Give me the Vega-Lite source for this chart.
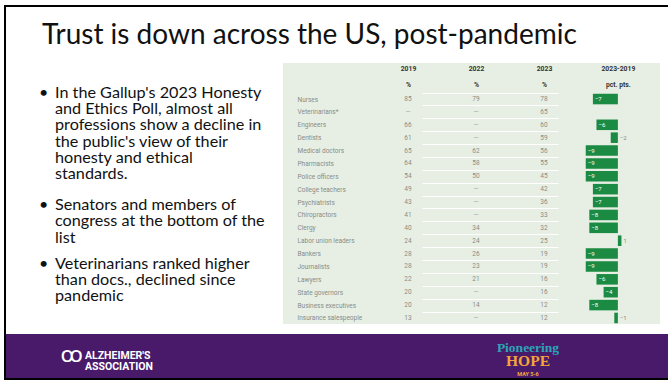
{
  "$schema": "https://vega.github.io/schema/vega-lite/v6.json",
  "background": "white",
  "padding": {"left": 4, "top": 5, "right": 2, "bottom": 0},
  "config": {
    "view": {"stroke": null},
    "axisY": {
      "orient": "left",
      "offset": -14,
      "labelAlign": "left",
      "labelPadding": 0,
      "tickSize": 0,
      "ticks": false,
      "domain": false,
      "grid": true,
      "gridColor": "white",
      "gridWidth": 1,
      "gridOpacity": 1,
      "tickBand": "extent",
      "labelFont": "Roboto",
      "labelFontSize": 6.5,
      "labelColor": "#878c87",
      "title": null
    },
    "axisTop": {
      "offset": -10,
      "labelPadding": 2,
      "tickSize": 0,
      "ticks": false,
      "domain": false,
      "grid": false,
      "labelFont": "Roboto",
      "labelFontSize": 6.8,
      "labelFontWeight": "bold",
      "labelColor": "#333333",
      "labelLineHeight": 16,
      "title": null
    }
  },
  "spacing": 0,
  "hconcat": [
    {
      "width": 2,
      "height": 375,
      "view": {"fill": "black", "stroke": null},
      "data": {"values": []},
      "mark": "rect",
      "encoding": {}
    },
    {
      "spacing": 15,
      "vconcat": [
        {
          "width": 662,
          "height": 2,
          "view": {"fill": "black", "stroke": null},
          "data": {"values": []},
          "mark": "rect",
          "encoding": {}
        },
        {
          "title": {
            "text": "Trust is down across the US, post-pandemic",
            "anchor": "start",
            "dx": 36,
            "offset": 10,
            "font": "Lato",
            "fontSize": 28,
            "fontWeight": "normal",
            "color": "#111111"
          },
          "spacing": 10,
          "vconcat": [
            {
              "hconcat": [
                {
                  "width": 262,
                  "height": 261,
                  "data": {
                    "values": [
                      {"bullet": 1, "text": "In the Gallup's 2023 Honesty\nand Ethics Poll, almost all\nprofessions show a decline in\nthe public's view of their\nhonesty and ethical\nstandards."},
                      {"bullet": 2, "text": "Senators and members of\ncongress at the bottom of the\nlist"},
                      {"bullet": 3, "text": "Veterinarians ranked higher\nthan docs., declined since\npandemic"}
                    ]
                  },
                  "encoding": {
                    "y": {
                      "field": "bullet",
                      "type": "quantitative",
                      "scale": {"type": "pow", "exponent": -0.2, "domain": [1, 3], "range": [22, 193], "zero": false, "nice": false},
                      "axis": null
                    }
                  },
                  "layer": [
                    {
                      "mark": {"type": "text", "text": "•", "align": "left", "baseline": "top", "font": "Lato", "fontSize": 16, "color": "#111111"},
                      "encoding": {
                        "x": {"datum": "dot", "type": "nominal", "scale": {"type": "point", "domain": ["dot", "text"], "range": [33, 49], "padding": 0}, "axis": null}
                      }
                    },
                    {
                      "mark": {"type": "text", "align": "left", "baseline": "top", "lineBreak": "\n", "lineHeight": 16.2, "font": "Lato", "fontSize": 16.2, "color": "#111111"},
                      "encoding": {
                        "x": {"datum": "text", "type": "nominal", "scale": {"type": "point", "domain": ["dot", "text"], "range": [33, 49], "padding": 0}, "axis": null},
                        "text": {"field": "text", "type": "nominal"}
                      }
                    }
                  ]
                },
                {
                  "width": 377,
                  "height": 261,
                  "view": {"fill": "#e7efe4", "stroke": null},
                  "data": {
                    "values": [
                      {"profession": "Nurses", "2019": 85, "2022": 79, "2023": 78, "change": -7},
                      {"profession": "Veterinarians*", "2019": null, "2022": null, "2023": 65, "change": null},
                      {"profession": "Engineers", "2019": 66, "2022": null, "2023": 60, "change": -6},
                      {"profession": "Dentists", "2019": 61, "2022": null, "2023": 59, "change": -2},
                      {"profession": "Medical doctors", "2019": 65, "2022": 62, "2023": 56, "change": -9},
                      {"profession": "Pharmacists", "2019": 64, "2022": 58, "2023": 55, "change": -9},
                      {"profession": "Police officers", "2019": 54, "2022": 50, "2023": 45, "change": -9},
                      {"profession": "College teachers", "2019": 49, "2022": null, "2023": 42, "change": -7},
                      {"profession": "Psychiatrists", "2019": 43, "2022": null, "2023": 36, "change": -7},
                      {"profession": "Chiropractors", "2019": 41, "2022": null, "2023": 33, "change": -8},
                      {"profession": "Clergy", "2019": 40, "2022": 34, "2023": 32, "change": -8},
                      {"profession": "Labor union leaders", "2019": 24, "2022": 24, "2023": 25, "change": 1},
                      {"profession": "Bankers", "2019": 28, "2022": 26, "2023": 19, "change": -9},
                      {"profession": "Journalists", "2019": 28, "2022": 23, "2023": 19, "change": -9},
                      {"profession": "Lawyers", "2019": 22, "2022": 21, "2023": 16, "change": -6},
                      {"profession": "State governors", "2019": 20, "2022": null, "2023": 16, "change": -4},
                      {"profession": "Business executives", "2019": 20, "2022": 14, "2023": 12, "change": -8},
                      {"profession": "Insurance salespeople", "2019": 13, "2022": null, "2023": 12, "change": -1}
                    ]
                  },
                  "encoding": {
                    "y": {
                      "field": "profession",
                      "type": "nominal",
                      "scale": {
                        "domain": ["Nurses", "Veterinarians*", "Engineers", "Dentists", "Medical doctors", "Pharmacists", "Police officers", "College teachers", "Psychiatrists", "Chiropractors", "Clergy", "Labor union leaders", "Bankers", "Journalists", "Lawyers", "State governors", "Business executives", "Insurance salespeople"],
                        "range": [29.6, 261.4],
                        "paddingInner": 0,
                        "paddingOuter": 0
                      },
                      "title": null
                    }
                  },
                  "layer": [
                    {
                      "transform": [{"fold": ["2019", "2022", "2023"], "as": ["col", "val"]}],
                      "encoding": {
                        "x": {
                          "field": "col",
                          "type": "nominal",
                          "scale": {"type": "point", "domain": ["2019", "2022", "2023"], "range": [125, 261], "padding": 0},
                          "axis": {"orient": "top", "labelExpr": "[datum.label, '%']", "labelAngle": 0}
                        }
                      },
                      "layer": [
                        {
                          "transform": [{"filter": "datum.val != null"}],
                          "mark": {"type": "text", "font": "Roboto", "fontSize": 6.5, "color": "#878c87"},
                          "encoding": {"text": {"field": "val", "type": "quantitative", "format": "d"}}
                        },
                        {
                          "transform": [{"filter": "datum.val == null"}],
                          "mark": {"type": "text", "text": "—", "font": "Roboto", "fontSize": 6.5, "color": "#a5aaa5"}
                        }
                      ]
                    },
                    {
                      "encoding": {
                        "x": {
                          "field": "change",
                          "type": "quantitative",
                          "scale": {"domain": [-93.8, 11.8], "nice": false, "zero": false},
                          "axis": {"orient": "top", "values": [0], "labelExpr": "['2023-2019', 'pct. pts.']"}
                        }
                      },
                      "layer": [
                        {
                          "mark": {"type": "bar", "color": "#1b8a42", "height": {"band": 0.82}}
                        },
                        {
                          "transform": [{"filter": "datum.change <= -3"}],
                          "mark": {"type": "text", "align": "left", "dx": 2, "font": "Roboto", "fontSize": 6, "color": "white"},
                          "encoding": {"text": {"field": "change", "type": "quantitative", "format": "d"}}
                        },
                        {
                          "transform": [{"filter": "datum.change != null && datum.change < 0 && datum.change > -3"}],
                          "mark": {"type": "text", "align": "left", "dx": 2, "font": "Roboto", "fontSize": 6, "color": "#878c87"},
                          "encoding": {
                            "x": {"datum": 0, "type": "quantitative"},
                            "text": {"field": "change", "type": "quantitative", "format": "d"}
                          }
                        },
                        {
                          "transform": [{"filter": "datum.change != null && datum.change > 0"}],
                          "mark": {"type": "text", "align": "left", "dx": 2, "font": "Roboto", "fontSize": 6, "color": "#878c87"},
                          "encoding": {"text": {"field": "change", "type": "quantitative", "format": "d"}}
                        },
                        {
                          "transform": [{"filter": "datum.change == null"}],
                          "mark": {"type": "text", "text": "N/A", "align": "left", "font": "Roboto", "fontSize": 5, "color": "#878c87"},
                          "encoding": {"x": {"datum": -10, "type": "quantitative"}}
                        }
                      ]
                    }
                  ],
                  "resolve": {"scale": {"x": "independent"}, "axis": {"x": "independent"}}
                }
              ],
              "spacing": 15
            },
            {
              "spacing": 0,
              "vconcat": [
                {
                  "width": 662,
                  "height": 44,
                  "view": {"fill": "#4a1a6a", "stroke": null},
                  "data": {
                    "values": [
                      {"side": "left", "item": "org", "text": "ALZHEIMER'S\nASSOCIATION"},
                      {"side": "left", "item": "icon", "text": "ꝏ"},
                      {"side": "center", "item": "event", "text": "Pioneering"},
                      {"side": "center", "item": "hope", "text": "HOPE"},
                      {"side": "center", "item": "date", "text": "MAY 5-6"}
                    ]
                  },
                  "encoding": {
                    "x": {"field": "side", "type": "nominal", "scale": {"type": "point", "domain": ["left", "center"], "range": [79, 522], "padding": 0}, "axis": null}
                  },
                  "layer": [
                    {
                      "transform": [{"filter": "datum.item == 'org'"}],
                      "mark": {"type": "text", "align": "left", "baseline": "middle", "lineBreak": "\n", "lineHeight": 11, "font": "Roboto", "fontWeight": "bold", "fontSize": 10.5, "color": "white"},
                      "encoding": {"text": {"field": "text", "type": "nominal"}}
                    },
                    {
                      "transform": [{"filter": "datum.item == 'icon'"}],
                      "mark": {"type": "text", "align": "right", "baseline": "middle", "dx": -2, "dy": -1, "font": "DejaVu Sans", "fontSize": 22, "color": "white"},
                      "encoding": {"text": {"field": "text", "type": "nominal"}}
                    },
                    {
                      "transform": [{"filter": "datum.item == 'event'"}],
                      "mark": {"type": "text", "align": "center", "baseline": "middle", "dy": -8.5, "font": "Liberation Serif", "fontSize": 13.5, "fontWeight": "bold", "color": "#2aa6b6"},
                      "encoding": {"text": {"field": "text", "type": "nominal"}}
                    },
                    {
                      "transform": [{"filter": "datum.item == 'hope'"}],
                      "mark": {"type": "text", "align": "center", "baseline": "middle", "dy": 4.5, "font": "Liberation Serif", "fontSize": 15.5, "fontWeight": "bold", "color": "#f4a43a"},
                      "encoding": {"text": {"field": "text", "type": "nominal"}}
                    },
                    {
                      "transform": [{"filter": "datum.item == 'date'"}],
                      "mark": {"type": "text", "align": "center", "baseline": "middle", "dy": 18, "font": "Roboto", "fontWeight": "bold", "fontSize": 5.5, "color": "#f4a43a"},
                      "encoding": {"text": {"field": "text", "type": "nominal"}}
                    }
                  ]
                },
                {
                  "width": 662,
                  "height": 3,
                  "view": {"fill": "black", "stroke": null},
                  "data": {"values": []},
                  "mark": "rect",
                  "encoding": {}
                }
              ]
            }
          ]
        }
      ]
    }
  ]
}
